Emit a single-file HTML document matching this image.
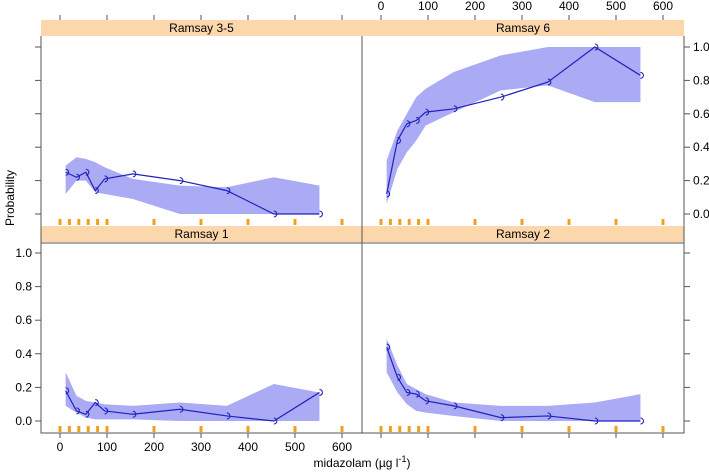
<!DOCTYPE html>
<html><head><meta charset="utf-8"><style>
body{margin:0;background:#fff;}
svg{display:block;font-family:"Liberation Sans",sans-serif;}
</style></head><body>
<svg id="c" width="709" height="472"></svg>
<script>
const xs=[12,35,55,75,95,155,255,355,455,552];
const panelNames=["Ramsay 3-5","Ramsay 6","Ramsay 1","Ramsay 2"];
const r35Mid=[0.25,0.22,0.25,0.14,0.21,0.24,0.20,0.14,0,0];
const r35Up=[0.29,0.34,0.33,0.31,0.28,0.21,0.17,0.16,0.22,0.17];
const r35Lo=[0.12,0.20,0.20,0.13,0.12,0.09,0,0,0,0];
const r6Mid=[0.12,0.44,0.54,0.56,0.61,0.63,0.70,0.79,1.0,0.83];
const r6Up=[0.32,0.50,0.60,0.70,0.75,0.85,0.95,1.0,1.0,1.0];
const r6Lo=[0.06,0.27,0.37,0.44,0.53,0.61,0.74,0.77,0.67,0.67];
const r1Mid=[0.18,0.06,0.04,0.11,0.06,0.04,0.07,0.03,0,0.17];
const r1Up=[0.29,0.15,0.12,0.11,0.10,0.09,0.11,0.09,0.22,0.17];
const r1Lo=[0.09,0.05,0.02,0.01,0.01,0.01,0,0,0,0];
const r2Mid=[0.44,0.26,0.17,0.16,0.12,0.09,0.02,0.03,0,0];
const r2Up=[0.49,0.33,0.22,0.19,0.16,0.11,0.09,0.09,0.11,0.16];
const r2Lo=[0.29,0.17,0.10,0.06,0.05,0.03,0.0,0,0,0];
const rug=[0,20,40,60,80,100,200,300,400,500,600];
const xTicks=[0,100,200,300,400,500,600];
const yTicks=[0,0.2,0.4,0.6,0.8,1.0];
const NS="http://www.w3.org/2000/svg";
const svg=document.getElementById('c');
function mk(t,a,p){const e=document.createElementNS(NS,t);for(const k in a)e.setAttribute(k,a[k]);(p||svg).appendChild(e);return e;}
const panels=[
 {x0:41,x1:362,top:36,bot:226,y1:47,y0:214,mid:r35Mid,up:r35Up,lo:r35Lo,sTop:20,nm:'ramsay-3-5'},
 {x0:362,x1:684,top:36,bot:226,y1:47,y0:214,mid:r6Mid,up:r6Up,lo:r6Lo,sTop:20,nm:'ramsay-6'},
 {x0:41,x1:362,top:243,bot:433,y1:253,y0:421,mid:r1Mid,up:r1Up,lo:r1Lo,sTop:226,nm:'ramsay-1'},
 {x0:362,x1:684,top:243,bot:433,y1:253,y0:421,mid:r2Mid,up:r2Up,lo:r2Lo,sTop:226,nm:'ramsay-2'}];
panels.forEach((p,i)=>{
 const off=p.x0+19;
 const X=v=>off+v*0.47;
 const Y=v=>p.y0-v*(p.y0-p.y1);
 const g=mk('g',{});
 
 
 const strip=mk('rect',{x:p.x0,y:p.sTop,width:p.x1-p.x0,height:16,fill:'#fdd7ac'},g);
 
 
 const st=mk('text',{x:(p.x0+p.x1)/2,y:p.sTop+12,'text-anchor':'middle','font-size':12,fill:'#000'},g);
 st.textContent=panelNames[i];
 
 
 let pts=xs.map((v,j)=>X(v)+','+Y(p.up[j]));
 pts=pts.concat(xs.map((v,j)=>X(v)+','+Y(p.lo[j])).reverse());
 const band=mk('polygon',{points:pts.join(' '),fill:'#aaaaf5'},g);
 
 
 const line=mk('polyline',{points:xs.map((v,j)=>X(v)+','+Y(p.mid[j])).join(' '),fill:'none',stroke:'#2222bb','stroke-width':1.2},g);
 
 
 xs.forEach((v,j)=>{
  const cx=X(v),cy=Y(p.mid[j]);
  const m=mk('path',{d:`M${cx},${cy-3} A3,3 0 0 1 ${cx},${cy+3}`,fill:'none',stroke:'#2222bb','stroke-width':1.1},g);
  
  
 });
 rug.forEach(v=>{
  const r=mk('rect',{x:X(v)-1.5,y:p.bot-7,width:3,height:6,fill:'#f0a020'},g);
  
  
 });
});
const fr=mk('path',{d:'M41,36 V433 H684 V36 M362,36 V433 M41,243 H684',fill:'none',stroke:'#555','stroke-width':1});


xTicks.forEach(v=>{
 const xb=60+v*0.47, xt=381+v*0.47;
 const t1=mk('line',{x1:xb,y1:433,x2:xb,y2:438,stroke:'#555'});
 
 const l1=mk('text',{x:xb,y:451,'text-anchor':'middle','font-size':12});l1.textContent=v;
 
 const t2=mk('line',{x1:xt,y1:433,x2:xt,y2:438,stroke:'#555'});
 
 const t3=mk('line',{x1:xb,y1:15,x2:xb,y2:20,stroke:'#555'});
 
 const t4=mk('line',{x1:xt,y1:15,x2:xt,y2:20,stroke:'#555'});
 
 const l2=mk('text',{x:xt,y:10,'text-anchor':'middle','font-size':12});l2.textContent=v;
 
});
yTicks.forEach(v=>{
 const yt=214-v*167, yb=421-v*168;
 const a=mk('line',{x1:35,y1:yt,x2:41,y2:yt,stroke:'#555'});
 
 const b=mk('line',{x1:684,y1:yt,x2:690,y2:yt,stroke:'#555'});
 
 const lb=mk('text',{x:693,y:yt+4,'font-size':12});lb.textContent=v.toFixed(1);
 
 const c=mk('line',{x1:35,y1:yb,x2:41,y2:yb,stroke:'#555'});
 
 const d=mk('line',{x1:684,y1:yb,x2:690,y2:yb,stroke:'#555'});
 
 const lc=mk('text',{x:32,y:yb+4,'text-anchor':'end','font-size':12});lc.textContent=v.toFixed(1);
 
});
</script>
<svg style="position:absolute;left:0;top:0" width="709" height="472">
<text x="14" y="198" transform="rotate(-90 14 198)" text-anchor="middle" font-size="12" font-family="Liberation Sans, sans-serif">Probability</text>
<text x="362" y="467" text-anchor="middle" font-size="12" font-family="Liberation Sans, sans-serif">midazolam (µg l<tspan dy="-5" font-size="9">-1</tspan><tspan dy="5">)</tspan></text>
</svg>
</body></html>
